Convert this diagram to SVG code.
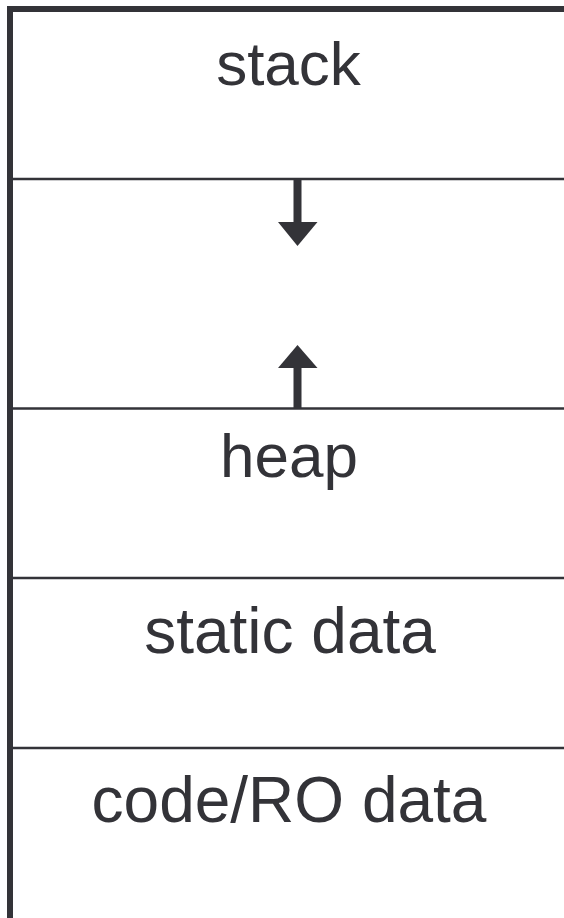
<svg xmlns="http://www.w3.org/2000/svg" width="564" height="918" viewBox="0 0 564 918">
<style>
.frame{stroke:#333338;stroke-width:6;fill:none}
.div{stroke:#333338;stroke-width:2.5;fill:none}
.lbl{font-family:"Liberation Sans",Arial,sans-serif;font-size:62px;fill:#333338;text-anchor:middle}
.big{font-size:64px}
.arr{fill:#333338}
</style>
<rect width="564" height="918" fill="#ffffff"/>
<g id="frame">
<line class="frame" x1="10" y1="6" x2="10" y2="918"/>
<line class="frame" x1="7" y1="9" x2="564" y2="9"/>
</g>
<g id="stack"><text class="lbl" x="288.5" y="85">stack</text></g>
<g id="free"><line class="div" x1="13" y1="179" x2="564" y2="179"/></g>
<g id="heap"><line class="div" x1="13" y1="408.5" x2="564" y2="408.5"/><text class="lbl" x="289" y="477">heap</text></g>
<g id="static"><line class="div" x1="13" y1="578" x2="564" y2="578"/><text class="lbl big" x="290" y="653">static data</text></g>
<g id="code"><line class="div" x1="13" y1="748" x2="564" y2="748"/><text class="lbl big" x="289" y="822">code/RO data</text></g>
<g id="connectors">
<rect class="arr" x="293.5" y="180" width="8" height="43"/>
<polygon class="arr" points="278,222 317.5,222 297.5,246"/>
<rect class="arr" x="293.5" y="367" width="8" height="41"/>
<polygon class="arr" points="297.5,345 278,368 317.5,368"/>
</g>
</svg>
